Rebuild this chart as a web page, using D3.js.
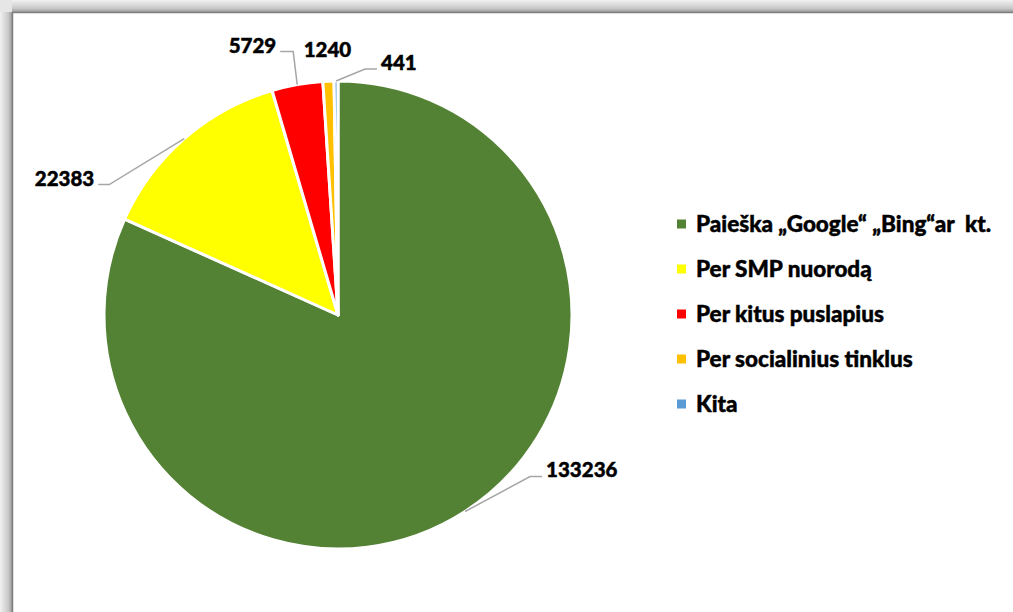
<!DOCTYPE html>
<html lang="lt">
<head>
<meta charset="utf-8">
<title>Srautų šaltiniai</title>
<script src="https://d3js.org/d3.v7.min.js"></script>
<style>
    body { margin: 0; background: #fff; }
    svg text { font-family: Lato, 'Open Sans', sans-serif; font-weight: 900; fill: #000; stroke: #000; stroke-width: 0.45px; white-space: pre; }
</style>
</head>
<body>
<div id="chart"></div>
<script>
/* global d3 */

// data
var categories = ["Paieška „Google“ „Bing“ar  kt.", "Per SMP nuorodą", "Per kitus puslapius", "Per socialinius tinklus", "Kita"];
var values = [133236, 22383, 5729, 1240, 441];
var colors = ["#548235", "#ffff00", "#ff0000", "#ffc000", "#5b9bd5"];

// label placement, relative to the point on the rim at each slice's middle
// elbow = where the leader turns, side = which side of the leader the text sits
var labelLayout = [
    {elbow: [65, -35], len: 12, side: 1},
    {elbow: [-75, 46], len: -11, side: -1},
    {elbow: [-4, -33], len: -13, side: -1},
    {elbow: null, at: [-1, -24]},
    {elbow: [29, -12], len: 12, side: 1}
];

var width = 1013,
    height = 612,
    cx = 338,
    cy = 315,
    radius = 234;

var svg = d3.select("#chart").append("svg")
    .attr("width", width)
    .attr("height", height);

// frame with a soft shadow on top/left
var defs = svg.append("defs");
var gTop = defs.append("linearGradient").attr("id", "shTop").attr("x1", 0).attr("y1", 0).attr("x2", 0).attr("y2", 1);
gTop.append("stop").attr("offset", "0%").attr("stop-color", "#f2f2f2");
gTop.append("stop").attr("offset", "70%").attr("stop-color", "#c8c8c8");
gTop.append("stop").attr("offset", "100%").attr("stop-color", "#9a9a9a");
var gLeft = defs.append("linearGradient").attr("id", "shLeft").attr("x1", 0).attr("y1", 0).attr("x2", 1).attr("y2", 0);
gLeft.append("stop").attr("offset", "0%").attr("stop-color", "#f2f2f2");
gLeft.append("stop").attr("offset", "70%").attr("stop-color", "#c8c8c8");
gLeft.append("stop").attr("offset", "100%").attr("stop-color", "#9a9a9a");

svg.append("rect").attr("x", 0).attr("y", 0).attr("width", width).attr("height", 12).attr("fill", "url(#shTop)");
svg.append("rect").attr("x", 0).attr("y", 0).attr("width", 12).attr("height", height).attr("fill", "url(#shLeft)");
svg.append("rect").attr("x", 0).attr("y", 0).attr("width", 12).attr("height", 12).attr("fill", "#e6e6e6");
svg.append("rect")
    .attr("x", 12.5).attr("y", 12.5)
    .attr("width", width + 20).attr("height", height + 20)
    .attr("fill", "#fff")
    .attr("stroke", "#7f7f7f")
    .attr("stroke-width", 1.5);

var pie = d3.pie().sort(null).value(function(d) { return d; });
var arcs = pie(values);

var arc = d3.arc().innerRadius(0).outerRadius(radius);

var g = svg.append("g").attr("transform", "translate(" + cx + "," + cy + ")");

g.selectAll("path.slice")
    .data(arcs)
    .enter().append("path")
    .attr("class", "slice")
    .attr("d", arc)
    .attr("fill", function(d, i) { return colors[i]; })
    .attr("stroke", "#fff")
    .attr("stroke-width", 3)
    .attr("stroke-linejoin", "round");

// data labels with leader lines
arcs.forEach(function(d, i) {
    var mid = (d.startAngle + d.endAngle) / 2,
        px = radius * Math.sin(mid),
        py = -radius * Math.cos(mid),
        lay = labelLayout[i];

    if (!lay.elbow) {
        g.append("text")
            .attr("x", px + lay.at[0])
            .attr("y", py + lay.at[1])
            .attr("text-anchor", "middle")
            .style("font-size", "20.5px")
            .text(values[i]);
        return;
    }

    var ex = px + lay.elbow[0],
        ey = py + lay.elbow[1];

    g.append("path")
        .attr("d", d3.line()([[px, py], [ex, ey], [ex + lay.len, ey]]))
        .attr("fill", "none")
        .attr("stroke", "#a6a6a6")
        .attr("stroke-width", 1.5);

    g.append("text")
        .attr("x", ex + lay.len + lay.side * 4)
        .attr("y", ey + 1)
        .attr("text-anchor", lay.side > 0 ? "start" : "end")
        .style("font-size", "20.5px")
        .text(values[i]);
});

// legend
var legendY = d3.scalePoint().domain(categories).range([224, 404]);

var legend = svg.append("g").selectAll("g")
    .data(categories)
    .enter().append("g")
    .attr("transform", function(d) { return "translate(677," + legendY(d) + ")"; });

legend.append("rect")
    .attr("x", 0).attr("y", -4.5)
    .attr("width", 9).attr("height", 9)
    .attr("fill", function(d, i) { return colors[i]; });

legend.append("text")
    .attr("x", 19)
    .attr("y", 8)
    .style("font-size", "22.5px")
    .text(function(d) { return d; });
</script>
</body>
</html>
